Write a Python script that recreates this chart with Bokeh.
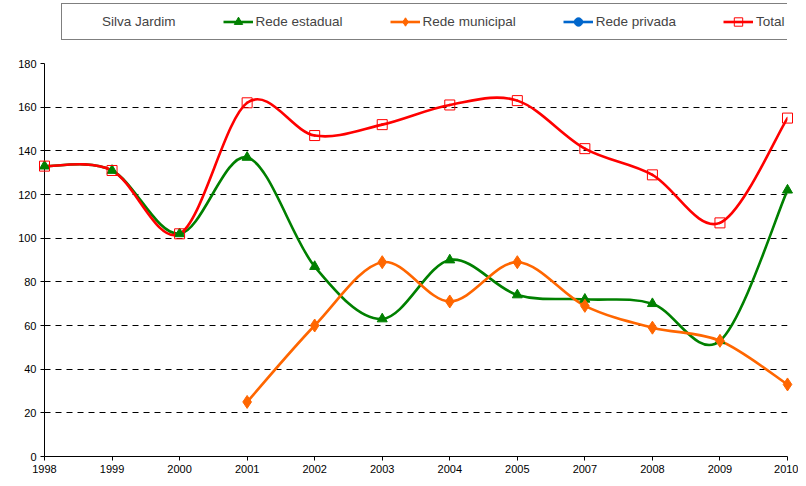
from bokeh.plotting import figure
from bokeh.layouts import column
from bokeh.models import Range1d, FixedTicker, Legend, LegendItem
from bokeh.embed import file_html
from bokeh.resources import INLINE

years = ["1998", "1999", "2000", "2001", "2002", "2003", "2004", "2005", "2007", "2008", "2009", "2010"]
estadual = [133, 131, 102, 137, 87, 63, 90, 74, 72, 70, 53, 122]
municipal = [None, None, None, 25, 60, 89, 71, 89, 69, 59, 53, 33]
privada = [None] * 12
total = [133, 131, 102, 162, 147, 152, 161, 163, 141, 129, 107, 155]
y_ticks = [0, 20, 40, 60, 80, 100, 120, 140, 160, 180]

FONT = "Liberation Sans"
W = 798
LEG_H = 55
NAN = float("nan")

p = figure(width=W, height=478 - LEG_H, output_backend="svg", toolbar_location=None,
           x_range=Range1d(0, len(years) - 1), y_range=Range1d(0, 180),
           min_border_left=44, min_border_right=11, min_border_top=8, min_border_bottom=22)
p.outline_line_color = None
p.background_fill_color = "white"
p.border_fill_color = "white"

p.xaxis.ticker = FixedTicker(ticks=list(range(len(years))))
p.xaxis.major_label_overrides = {i: y for i, y in enumerate(years)}
p.yaxis.ticker = FixedTicker(ticks=y_ticks)
for ax in (p.xaxis[0], p.yaxis[0]):
    ax.axis_line_color = "black"
    ax.major_tick_line_color = "black"
    ax.minor_tick_line_color = None
    ax.major_tick_in = 0
    ax.major_tick_out = 4
    ax.major_label_text_font = FONT
    ax.major_label_text_font_size = "11px"
    ax.major_label_text_color = "black"
p.xaxis.major_label_standoff = 4
p.yaxis.major_label_standoff = 4
p.xgrid.grid_line_color = None
p.ygrid.grid_line_color = "black"
p.ygrid.grid_line_dash = "6 5"
p.ygrid.grid_line_width = 1


def smooth_segments(vals):
    pts = [(i, v) for i, v in enumerate(vals) if v is not None]
    n = len(pts)
    seg = dict(x0=[], y0=[], x1=[], y1=[], cx0=[], cy0=[], cx1=[], cy1=[])
    for k in range(n - 1):
        p0 = pts[k - 1] if k > 0 else pts[k]
        p1 = pts[k]
        p2 = pts[k + 1]
        p3 = pts[k + 2] if k + 2 < n else pts[k + 1]
        seg["x0"].append(p1[0]); seg["y0"].append(p1[1])
        seg["x1"].append(p2[0]); seg["y1"].append(p2[1])
        seg["cx0"].append(p1[0] + (p2[0] - p0[0]) / 6)
        seg["cy0"].append(p1[1] + (p2[1] - p0[1]) / 6)
        seg["cx1"].append(p2[0] - (p3[0] - p1[0]) / 6)
        seg["cy1"].append(p2[1] - (p3[1] - p1[1]) / 6)
    xs = [q[0] for q in pts]
    ys = [q[1] for q in pts]
    return seg, xs, ys


series = [
    ("Rede estadual", estadual, "#008000", "triangle", 10, "#008000"),
    ("Rede municipal", municipal, "#FF6600", "diamond", 13, "#FF6600"),
    ("Rede privada", privada, "#0066CC", "circle", 8, "#0066CC"),
    ("Total", total, "#FF0000", "square", 10, None),
]

# legend strip above the chart
lf = figure(width=W, height=LEG_H, output_backend="svg", toolbar_location=None,
            x_axis_type=None, y_axis_type=None, x_range=Range1d(0, 1), y_range=Range1d(0, 1),
            min_border=0, min_border_left=0, min_border_right=0, min_border_top=0, min_border_bottom=0)
lf.outline_line_color = None
lf.grid.grid_line_color = None
lf.background_fill_color = "white"
lf.border_fill_color = "white"

items = []
blank = lf.line([NAN], [NAN], line_alpha=0)
items.append(LegendItem(label="Silva Jardim", renderers=[blank]))
for name, vals, color, marker, size, fill in series:
    seg, xs, ys = smooth_segments(vals)
    if xs:
        p.bezier(x0="x0", y0="y0", x1="x1", y1="y1", cx0="cx0", cy0="cy0", cx1="cx1", cy1="cy1",
                 source=seg, line_color=color, line_width=2.6, line_cap="round")
        if fill is None:
            p.scatter(xs, ys, marker=marker, size=size, fill_color=None, line_color=color,
                      line_width=1, level="overlay")
        else:
            p.scatter(xs, ys, marker=marker, size=size, fill_color=fill, line_color=color,
                      level="overlay")
    # legend proxies (no visible data)
    lr = lf.line([NAN], [NAN], line_color=color, line_width=2.6)
    if fill is None:
        sr = lf.scatter([NAN], [NAN], marker=marker, size=size, fill_color=None, line_color=color)
    else:
        sr = lf.scatter([NAN], [NAN], marker=marker, size=size, fill_color=fill, line_color=color)
    items.append(LegendItem(label=name, renderers=[lr, sr]))

legend = Legend(items=items, orientation="horizontal", location=(17, 15),
                padding=7, spacing=47, glyph_width=30, glyph_height=21, label_standoff=3,
                label_text_font=FONT, label_text_font_size="13.5px",
                border_line_color="black", border_line_width=1,
                background_fill_color="white", background_fill_alpha=1,
                click_policy="none", margin=0)
lf.add_layout(legend, "center")

layout = column(lf, p, spacing=0)
open("out.html", "w").write(file_html(layout, INLINE))
